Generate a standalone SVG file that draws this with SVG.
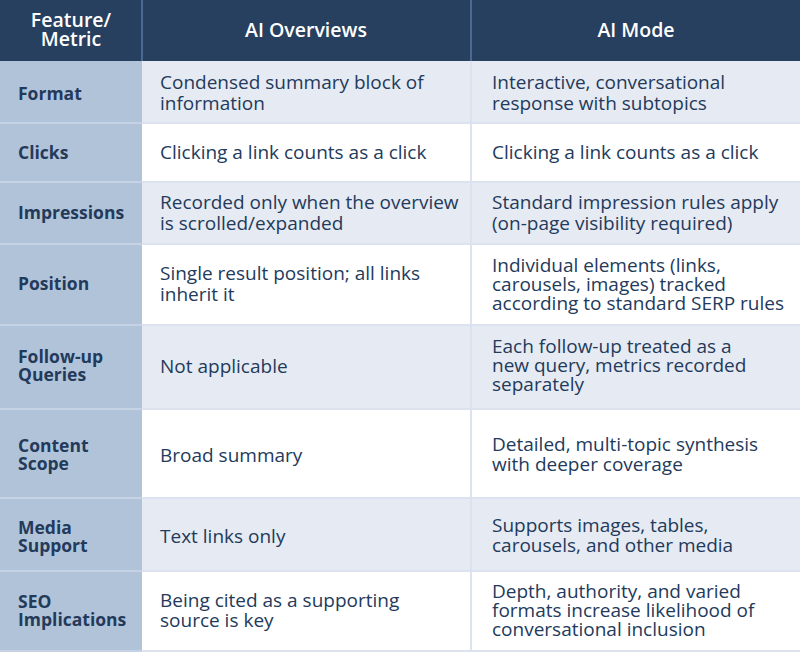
<svg xmlns="http://www.w3.org/2000/svg" width="800" height="652" viewBox="0 0 800 652">
<style>
.hd{fill:#27405f}
.c1{fill:#b1c3d9}
.st{fill:#e6eaf3}
.wh{fill:#ffffff}
.ht{font-family:"Open Sans","Liberation Sans",sans-serif;font-size:19.5px;font-weight:600;fill:#ffffff;text-anchor:middle}
.lb{font-family:"Open Sans","Liberation Sans",sans-serif;font-size:17.5px;font-weight:700;fill:#233a5b}
.tx{font-family:"Open Sans","Liberation Sans",sans-serif;font-size:19px;fill:#233a5b}
</style>
<rect x="0" y="0" width="800" height="652" fill="#dce3ee"/>
<rect x="0" y="0" width="142" height="652" fill="#c6d3e4"/>
<g id="header">
<rect class="hd" x="0" y="0" width="800" height="61"/>
<rect x="141" y="0" width="2" height="61" fill="#4a6890"/>
<rect x="470" y="0" width="2" height="61" fill="#4a6890"/>
<text class="ht" x="71" y="27">Feature/</text>
<text class="ht" x="71" y="46">Metric</text>
<text class="ht" x="306" y="37">AI Overviews</text>
<text class="ht" x="636" y="37">AI Mode</text>
</g>
<g id="row-format">
<rect class="c1" x="0" y="61" width="142" height="61"/>
<rect class="st" x="142" y="61" width="328" height="61"/>
<rect class="st" x="472" y="61" width="328" height="61"/>
<text class="lb" x="18" y="100">Format</text>
<text class="tx" x="160" y="89">Condensed summary block of</text>
<text class="tx" x="160" y="110">information</text>
<text class="tx" x="492" y="89">Interactive, conversational</text>
<text class="tx" x="492" y="110">response with subtopics</text>
</g>
<g id="row-clicks">
<rect class="c1" x="0" y="124" width="142" height="57"/>
<rect class="wh" x="142" y="124" width="328" height="57"/>
<rect class="wh" x="472" y="124" width="328" height="57"/>
<text class="lb" x="18" y="159">Clicks</text>
<text class="tx" x="160" y="159">Clicking a link counts as a click</text>
<text class="tx" x="492" y="159">Clicking a link counts as a click</text>
</g>
<g id="row-impressions">
<rect class="c1" x="0" y="183" width="142" height="60"/>
<rect class="st" x="142" y="183" width="328" height="60"/>
<rect class="st" x="472" y="183" width="328" height="60"/>
<text class="lb" x="18" y="219">Impressions</text>
<text class="tx" x="160" y="209">Recorded only when the overview</text>
<text class="tx" x="160" y="230">is scrolled/expanded</text>
<text class="tx" x="492" y="209">Standard impression rules apply</text>
<text class="tx" x="492" y="230">(on-page visibility required)</text>
</g>
<g id="row-position">
<rect class="c1" x="0" y="245" width="142" height="79"/>
<rect class="wh" x="142" y="245" width="328" height="79"/>
<rect class="wh" x="472" y="245" width="328" height="79"/>
<text class="lb" x="18" y="290">Position</text>
<text class="tx" x="160" y="280">Single result position; all links</text>
<text class="tx" x="160" y="301">inherit it</text>
<text class="tx" x="492" y="272">Individual elements (links,</text>
<text class="tx" x="492" y="291">carousels, images) tracked</text>
<text class="tx" x="492" y="310">according to standard SERP rules</text>
</g>
<g id="row-followup">
<rect class="c1" x="0" y="326" width="142" height="82"/>
<rect class="st" x="142" y="326" width="328" height="82"/>
<rect class="st" x="472" y="326" width="328" height="82"/>
<text class="lb" x="18" y="363">Follow-up</text>
<text class="lb" x="18" y="381">Queries</text>
<text class="tx" x="160" y="373">Not applicable</text>
<text class="tx" x="492" y="353">Each follow-up treated as a</text>
<text class="tx" x="492" y="372">new query, metrics recorded</text>
<text class="tx" x="492" y="391">separately</text>
</g>
<g id="row-content-scope">
<rect class="c1" x="0" y="410" width="142" height="87"/>
<rect class="wh" x="142" y="410" width="328" height="87"/>
<rect class="wh" x="472" y="410" width="328" height="87"/>
<text class="lb" x="18" y="452">Content</text>
<text class="lb" x="18" y="470">Scope</text>
<text class="tx" x="160" y="462">Broad summary</text>
<text class="tx" x="492" y="451">Detailed, multi-topic synthesis</text>
<text class="tx" x="492" y="471">with deeper coverage</text>
</g>
<g id="row-media">
<rect class="c1" x="0" y="499" width="142" height="71"/>
<rect class="st" x="142" y="499" width="328" height="71"/>
<rect class="st" x="472" y="499" width="328" height="71"/>
<text class="lb" x="18" y="534">Media</text>
<text class="lb" x="18" y="552">Support</text>
<text class="tx" x="160" y="543">Text links only</text>
<text class="tx" x="492" y="532">Supports images, tables,</text>
<text class="tx" x="492" y="552">carousels, and other media</text>
</g>
<g id="row-seo">
<rect class="c1" x="0" y="572" width="142" height="78"/>
<rect class="wh" x="142" y="572" width="328" height="78"/>
<rect class="wh" x="472" y="572" width="328" height="78"/>
<text class="lb" x="18" y="608">SEO</text>
<text class="lb" x="18" y="626">Implications</text>
<text class="tx" x="160" y="607">Being cited as a supporting</text>
<text class="tx" x="160" y="627">source is key</text>
<text class="tx" x="492" y="598">Depth, authority, and varied</text>
<text class="tx" x="492" y="617">formats increase likelihood of</text>
<text class="tx" x="492" y="636">conversational inclusion</text>
</g>
</svg>
